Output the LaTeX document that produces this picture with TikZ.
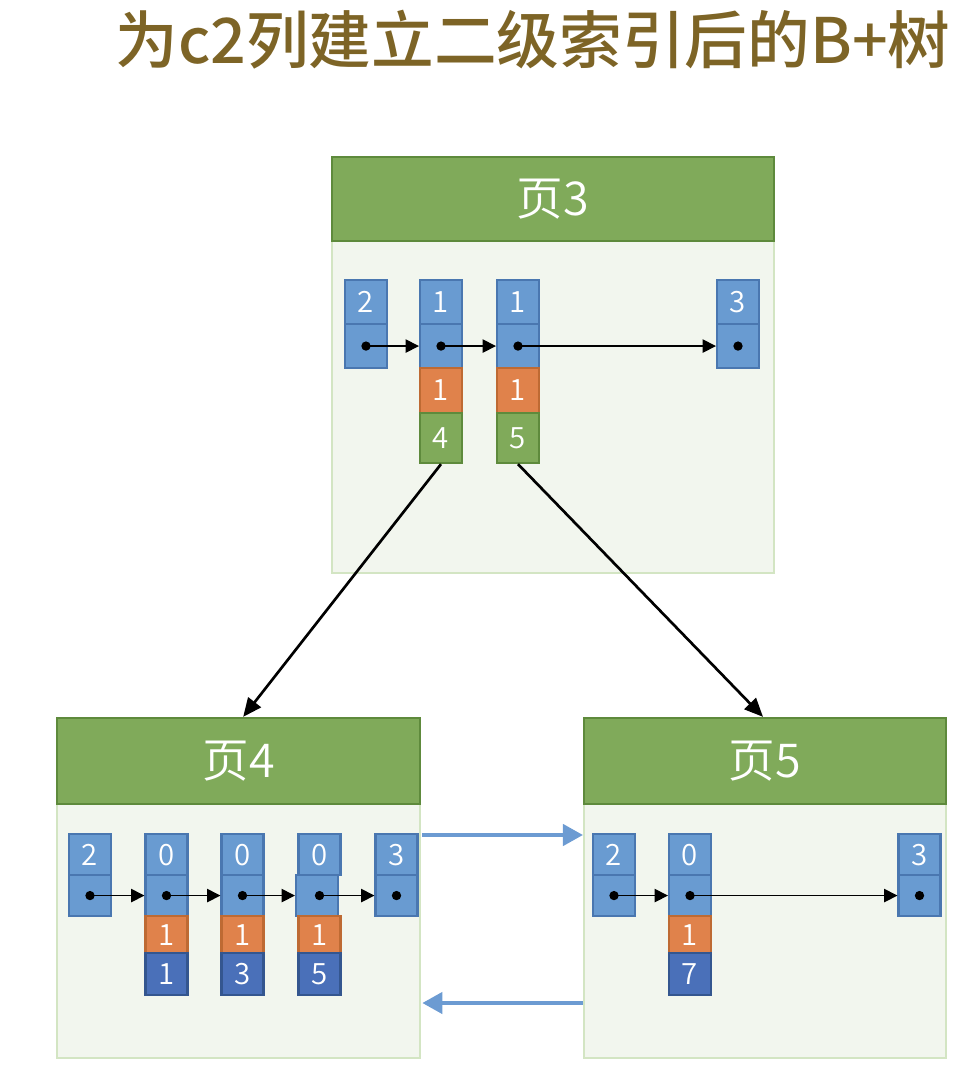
\documentclass[tikz,border=0pt]{standalone}
\usepackage{fontspec}
\setmainfont{Noto Sans CJK SC}
\newfontfamily\titlefont{Noto Sans CJK SC Medium}
\newfontfamily\lightfont{Noto Sans CJK SC DemiLight}
\usetikzlibrary{arrows.meta}
\definecolor{titlecol}{HTML}{7D6426}
\definecolor{hdrfill}{HTML}{80AA5A}
\definecolor{hdrdraw}{HTML}{5E8A3C}
\definecolor{bodyfill}{HTML}{F2F6EE}
\definecolor{bodydraw}{HTML}{D3E5C3}
\definecolor{bluefill}{HTML}{699BD1}
\definecolor{bluedraw}{HTML}{4A77B0}
\definecolor{orfill}{HTML}{E0824B}
\definecolor{ordraw}{HTML}{BE6A33}
\definecolor{grfill}{HTML}{80AA5A}
\definecolor{grdraw}{HTML}{5E8A3C}
\definecolor{dbfill}{HTML}{4A70B9}
\definecolor{dbdraw}{HTML}{34568F}
\definecolor{linkcol}{HTML}{6C9BD2}
\tikzset{
  cellbase/.style={draw, line width=1.6pt, inner sep=0pt, minimum width=31.5pt, text=white, font=\lightfont\fontsize{22}{22}\selectfont, anchor=north},
  bcell/.style={cellbase, fill=bluefill, draw=bluedraw},
  ocell/.style={cellbase, fill=orfill, draw=ordraw},
  gcell/.style={cellbase, fill=grfill, draw=grdraw},
  dcell/.style={cellbase, fill=dbfill, draw=dbdraw},
  pagebody/.style={draw=bodydraw, fill=bodyfill, line width=1.6pt, inner sep=0pt},
  pagehdr/.style={draw=hdrdraw, fill=hdrfill, line width=1.7pt, inner sep=0pt, text=white, font=\lightfont\fontsize{35}{35}\selectfont},
  ptr/.style={-{Triangle[length=10pt,width=10pt]}, line width=1.1pt, black},
  tree/.style={-{Triangle[length=14pt,width=12pt]}, line width=2pt, black},
  sib/.style={-{Triangle[length=15pt,width=16pt]}, line width=2.6pt, linkcol},
  dot/.style={circle, fill=black, inner sep=0pt, minimum size=7pt},
}
\begin{document}
\begin{tikzpicture}[x=0.75pt,y=-0.75pt]
\useasboundingbox (0,0) rectangle (972,1080);
% title
\node[text=titlecol, font=\titlefont\fontsize{47}{47}\selectfont] (title) at (533,40) {为c2列建立二级索引后的B+树};

% ---------- page 3 ----------
\node[pagebody, minimum width=331.5pt, minimum height=249pt] (p3b) at (553,407) {};
\node[pagehdr, minimum width=331.5pt, minimum height=63pt] (p3h) at (553,199) {页3};
% records
\node[bcell, minimum height=33pt] (p3r1k) at (366,279) {2};
\node[bcell, minimum height=33pt] (p3r1p) at (366,323) {};
\node[bcell, minimum height=33pt] (p3r2k) at (441,279) {1};
\node[bcell, minimum height=33pt] (p3r2p) at (441,323) {};
\node[ocell, minimum height=33.75pt] (p3r2o) at (441,367) {1};
\node[gcell, minimum height=37.5pt] (p3r2g) at (441,412) {4};
\node[bcell, minimum height=33pt] (p3r3k) at (518,279) {1};
\node[bcell, minimum height=33pt] (p3r3p) at (518,323) {};
\node[ocell, minimum height=33.75pt] (p3r3o) at (518,367) {1};
\node[gcell, minimum height=37.5pt] (p3r3g) at (518,412) {5};
\node[bcell, minimum height=33pt] (p3r4k) at (738,279) {3};
\node[bcell, minimum height=33pt] (p3r4p) at (738,323) {};
\foreach \n in {p3r1p,p3r2p,p3r3p,p3r4p} \node[dot] (\n d) at (\n.center) {};
\draw[ptr] (p3r1pd.center) -- (p3r2p.west);
\draw[ptr] (p3r2pd.center) -- (p3r3p.west);
\draw[ptr] (p3r3pd.center) -- (p3r4p.west);

% ---------- page 4 ----------
\node[pagebody, minimum width=272.25pt, minimum height=190.5pt] (p4b) at (238.5,931) {};
\node[pagehdr, minimum width=272.25pt, minimum height=64.5pt] (p4h) at (238.5,761) {页4};
\node[bcell, minimum height=30.75pt] (p4r1k) at (90,833) {2};
\node[bcell, minimum height=30.75pt] (p4r1p) at (90,874) {};
\node[bcell, minimum height=30.75pt] (p4r2k) at (166.5,833) {0};
\node[bcell, minimum height=30.75pt] (p4r2p) at (166.5,874) {};
\node[ocell, minimum height=27.75pt] (p4r2o) at (166.5,915) {1};
\node[dcell, minimum height=31.5pt] (p4r2d) at (166.5,952) {1};
\node[bcell, minimum height=30.75pt] (p4r3k) at (242.5,833) {0};
\node[bcell, minimum height=30.75pt] (p4r3p) at (242.5,874) {};
\node[ocell, minimum height=27.75pt] (p4r3o) at (242.5,915) {1};
\node[dcell, minimum height=31.5pt] (p4r3d) at (242.5,952) {3};
\node[bcell, minimum height=30.75pt] (p4r4p) at (317,874) {};
\node[bcell, minimum height=30.75pt] (p4r4k) at (319.5,833) {0};
\node[ocell, minimum height=27.75pt] (p4r4o) at (319.5,915) {1};
\node[dcell, minimum height=31.5pt] (p4r4d) at (319.5,952) {5};
\node[bcell, minimum height=30.75pt] (p4r5k) at (396.5,833) {3};
\node[bcell, minimum height=30.75pt] (p4r5p) at (396.5,874) {};
\foreach \n in {p4r1,p4r2,p4r3,p4r4,p4r5} \node[dot] (\n pd) at (\n k |- \n p.center) {};
\draw[ptr] (p4r1pd.center) -- (p4r2p.west);
\draw[ptr] (p4r2pd.center) -- (p4r3p.west);
\draw[ptr] (p4r3pd.center) -- (p4r4p.west);
\draw[ptr] (p4r4pd.center) -- (p4r5p.west);

% ---------- page 5 ----------
\node[pagebody, minimum width=271.5pt, minimum height=190.5pt] (p5b) at (765,931) {};
\node[pagehdr, minimum width=271.5pt, minimum height=64.5pt] (p5h) at (765,761) {页5};
\node[bcell, minimum height=30.75pt] (p5r1k) at (614,833) {2};
\node[bcell, minimum height=30.75pt] (p5r1p) at (614,874) {};
\node[bcell, minimum height=30.75pt] (p5r2k) at (690,833) {0};
\node[bcell, minimum height=30.75pt] (p5r2p) at (690,874) {};
\node[ocell, minimum height=27.75pt] (p5r2o) at (690,915) {1};
\node[dcell, minimum height=31.5pt] (p5r2d) at (690,952) {7};
\node[bcell, minimum height=30.75pt] (p5r3k) at (919.5,833) {3};
\node[bcell, minimum height=30.75pt] (p5r3p) at (919.5,874) {};
\foreach \n in {p5r1p,p5r2p,p5r3p} \node[dot] (\n d) at (\n.center) {};
\draw[ptr] (p5r1pd.center) -- (p5r2p.west);
\draw[ptr] (p5r2pd.center) -- (p5r3p.west);

% ---------- tree links ----------
\draw[tree] (p3r2g.south) -- ([xshift=3.5pt]p4h.north);
\draw[tree] (p3r3g.south) -- ([xshift=-1.5pt]p5h.north);

% ---------- sibling links ----------
\coordinate (upy) at (0,835);
\coordinate (lowy) at (0,1003);
\draw[sib] ([xshift=1pt]p4b.east |- upy) -- (p5b.west |- upy);
\draw[sib] (p5b.west |- lowy) -- ([xshift=1pt]p4b.east |- lowy);
\end{tikzpicture}
\end{document}
